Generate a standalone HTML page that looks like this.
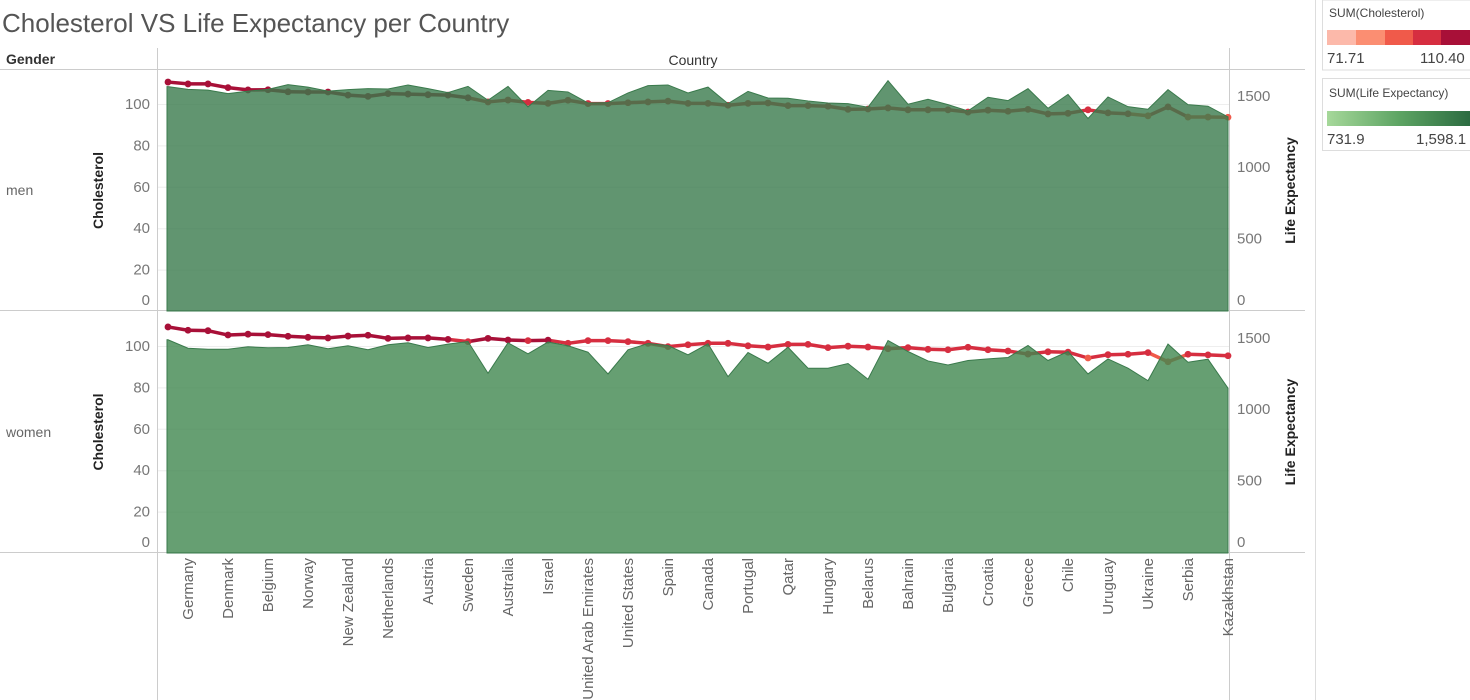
<!DOCTYPE html>
<html><head><meta charset="utf-8"><style>
html,body{margin:0;padding:0;background:#fff;width:1470px;height:700px;overflow:hidden;font-family:"Liberation Sans",sans-serif}
svg text{font-family:"Liberation Sans",sans-serif}
</style></head><body>
<svg id="chart" width="1470" height="700" xmlns="http://www.w3.org/2000/svg">
<text x="2" y="32" font-size="26" fill="#555">Cholesterol VS Life Expectancy per Country</text>
<text x="6" y="64" font-size="14" fill="#333" font-weight="bold">Gender</text>
<text x="693" y="65" font-size="14" fill="#333" text-anchor="middle">Country</text>
<line x1="0" y1="69.5" x2="1305" y2="69.5" stroke="#ccc"/>
<line x1="0" y1="310.5" x2="1305" y2="310.5" stroke="#ccc"/>
<line x1="0" y1="552.5" x2="1305" y2="552.5" stroke="#ccc"/>
<line x1="157.5" y1="48" x2="157.5" y2="700" stroke="#ccc"/>
<line x1="1229.5" y1="48" x2="1229.5" y2="700" stroke="#ccc"/>
<line x1="1315.5" y1="0" x2="1315.5" y2="700" stroke="#ddd"/>
<text x="6" y="195" font-size="14" fill="#666">men</text>
<text x="6" y="437" font-size="14" fill="#666">women</text>
<g id="plots"></g>
<g id="xlabels"></g>
<g>
<rect x="1322.5" y="0" width="150" height="70" fill="#fff" stroke="#ddd"/>
<text x="1329" y="17" font-size="12" fill="#444">SUM(Cholesterol)</text>
<rect x="1327" y="30" width="29" height="15" fill="#fcb9aa"/>
<rect x="1356" y="30" width="29" height="15" fill="#fb8e72"/>
<rect x="1385" y="30" width="28" height="15" fill="#f05a4a"/>
<rect x="1413" y="30" width="28" height="15" fill="#d62e40"/>
<rect x="1441" y="30" width="30" height="15" fill="#a81038"/>
<text x="1327" y="63" font-size="15" fill="#444">71.71</text>
<text x="1420" y="63" font-size="15" fill="#444">110.40</text>
</g>
<defs><linearGradient id="lg" x1="0" x2="1"><stop offset="0" stop-color="#a6d89a"/><stop offset="0.5" stop-color="#5da463"/><stop offset="1" stop-color="#2a6a40"/></linearGradient></defs>
<g>
<rect x="1322.5" y="78.5" width="150" height="72" fill="#fff" stroke="#ddd"/>
<text x="1329" y="97" font-size="12" fill="#444">SUM(Life Expectancy)</text>
<rect x="1327" y="111" width="145" height="15" fill="url(#lg)"/>
<text x="1327" y="144" font-size="15" fill="#444">731.9</text>
<text x="1416" y="144" font-size="15" fill="#444">1,598.1</text>
</g>
</svg>
<script>
const countries=["Luxembourg","Germany","Switzerland","Denmark","Iceland","Belgium","France","Norway","Ireland","New Zealand","Finland","Netherlands","United Kingdom","Austria","Italy","Sweden","Malta","Australia","Kuwait","Israel","Lebanon","United Arab Emirates","Saudi Arabia","United States","Singapore","Spain","Japan","Canada","Greenland","Portugal","Czech Republic","Qatar","Slovenia","Hungary","Poland","Belarus","Lithuania","Bahrain","Estonia","Bulgaria","Latvia","Croatia","Slovakia","Greece","Romania","Chile","Argentina","Uruguay","Moldova","Ukraine","Russia","Serbia","Montenegro","Kazakhstan"];
const menChol=[110.6,109.7,109.7,107.9,106.8,106.9,105.9,105.8,105.8,104.3,103.7,105,104.8,104.5,104.3,103,101,101.9,100.8,100.3,101.8,100.2,100.2,100.6,101,101.4,100.3,100.3,99.4,100.3,100.5,99.2,99.2,98.9,97.4,97.6,98.1,97.2,97.2,97.2,96.1,97,96.5,97.4,95.2,95.5,97.2,95.7,95.3,94.3,98.6,93.7,93.7,93.6];
const menLife=[1564,1545,1540,1515,1533,1545,1578,1561,1533,1543,1550,1548,1576,1550,1522,1566,1469,1566,1422,1538,1527,1450,1452,1520,1571,1576,1520,1561,1445,1531,1485,1483,1464,1450,1445,1420,1606,1441,1476,1438,1394,1490,1466,1550,1413,1510,1341,1492,1424,1406,1543,1438,1427,1352];
const womenChol=[109.2,107.6,107.4,105.3,105.7,105.5,104.7,104.2,103.9,104.8,105.2,103.7,103.9,103.9,103.2,102.1,103.7,102.9,102.6,102.8,101.3,102.6,102.6,102.1,101.3,99.7,100.6,101.3,101.3,100.1,99.5,100.8,100.8,99.2,99.9,99.5,98.7,99.2,98.4,98.2,99.4,98.2,97.6,96.1,97.2,97,94.2,95.8,96,96.8,92.4,96,95.7,95.3];
const womenLife=[1486,1427,1420,1420,1437,1430,1432,1451,1423,1444,1416,1451,1465,1432,1456,1474,1252,1465,1388,1470,1444,1399,1247,1416,1460,1446,1381,1458,1228,1397,1322,1434,1287,1287,1320,1210,1481,1404,1338,1310,1341,1352,1362,1446,1341,1404,1247,1352,1287,1200,1456,1329,1350,1147];
const cholTicks=[0,20,40,60,80,100];
const lifeTicks=[0,500,1000,1500];

const NS="http://www.w3.org/2000/svg";
function mk(tag,attrs,parent){const e=document.createElementNS(NS,tag);for(const k in attrs)e.setAttribute(k,attrs[k]);parent.appendChild(e);return e;}
const X0=168,STEP=(1228-168)/(countries.length-1);
function xPos(i){return X0+i*STEP;}
function cholColor(v){const mn=71.71,mx=110.40,t=(v-mn)/(mx-mn);const c=["#fcb9aa","#fb8e72","#f05a4a","#d62e40","#a81038"];return c[Math.max(0,Math.min(4,Math.floor(t*5)))];}
const plots=document.getElementById('plots');
const panes=[{name:'men',top:70,base:311,chol:menChol,life:menLife,fill:'#3a7a4c',op:0.8},
{name:'women',top:311,base:553,chol:womenChol,life:womenLife,fill:'#40874f',op:0.8}];
panes.forEach(p=>{
  const yC=v=>p.base-v*2.07;
  const yL=v=>p.base-1-v*0.1428;
  const g=mk('g',{},plots);
  
  
  cholTicks.forEach(t=>{
    if(t>0){const gl=mk('line',{x1:158,x2:1229,y1:yC(t)+0.5,y2:yC(t)+0.5,stroke:'#eee'},g);
      
      }
    let ty=yC(t)+5; if(t===0) ty=p.base-6;
    const tx=mk('text',{x:150,y:ty,'font-size':15,fill:'#777','text-anchor':'end'},g);tx.textContent=t;
    
    
  });
  lifeTicks.forEach(t=>{
    let ty=yL(t)+5; if(t===0) ty=p.base-6;
    const tx=mk('text',{x:1237,y:ty,'font-size':15,fill:'#777'},g);tx.textContent=t;
    
    
  });
  const mid=(p.top+p.base)/2;
  const t1=mk('text',{x:0,y:0,'font-size':14,fill:'#222','font-weight':'bold','text-anchor':'middle',transform:`translate(103,${mid}) rotate(-90)`},g);t1.textContent='Cholesterol';
  
  
  const t2=mk('text',{x:0,y:0,'font-size':14,fill:'#222','font-weight':'bold','text-anchor':'middle',transform:`translate(1295,${mid}) rotate(-90)`},g);t2.textContent='Life Expectancy';
  
  
  for(let i=0;i<p.chol.length-1;i++){
    const s=mk('line',{x1:xPos(i),y1:yC(p.chol[i]),x2:xPos(i+1),y2:yC(p.chol[i+1]),stroke:cholColor((p.chol[i]+p.chol[i+1])/2),'stroke-width':3.5,'stroke-linecap':'round'},g);
    
    
  }
  p.chol.forEach((v,i)=>{
    const c=mk('circle',{cx:xPos(i),cy:yC(v),r:3.4,fill:cholColor(v)},g);
    
    
  });
  let d=`M${xPos(0)-1},${p.base} L${xPos(0)-1},${yL(p.life[0])}`;
  p.life.forEach((v,i)=>{d+=` L${xPos(i)},${yL(v)}`;});
  d+=` L${xPos(p.life.length-1)},${p.base} Z`;
  const a=mk('path',{d:d,fill:p.fill,'fill-opacity':p.op,stroke:'#3a7a4c','stroke-width':1},g);
  
  
});
const xl=document.getElementById('xlabels');
countries.forEach((c,i)=>{
  if(i%2===0) return;
  const t=mk('text',{x:0,y:0,'font-size':15,fill:'#666','text-anchor':'end',transform:`translate(${xPos(i)+5},558) rotate(-90)`},xl);
  t.textContent=c;
  
  
});
</script>
</body></html>
